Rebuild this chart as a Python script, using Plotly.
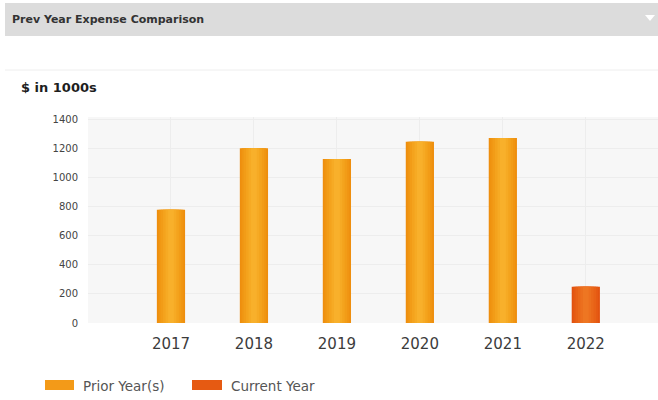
import plotly.graph_objects as go

# Annual expenses, $ in thousands
years = ["2017", "2018", "2019", "2020", "2021", "2022"]
prior_values = [780, 1205, 1130, 1250, 1275, None]
current_values = [None, None, None, None, None, 250]
y_ticks = [0, 200, 400, 600, 800, 1000, 1200, 1400]

W, H = 658, 400
L, R, T, B = 88, 0, 117, 77
PW, PH = W - L - R, H - T - B


def px(x):
    return (x - L) / PW


def py(y):
    return (H - B - y) / PH


# Horizontal shading for the bars: wide dark layer, then narrower lighter layers
prior_layers = [(0.34, "#EE8E0E"), (0.30, "#F09512"), (0.25, "#F29C17"),
                (0.19, "#F4A31D"), (0.13, "#F6AA24"), (0.07, "#F8B02B")]
current_layers = [(0.34, "#E2510F"), (0.30, "#E55913"), (0.25, "#E86116"),
                  (0.19, "#EA681A"), (0.13, "#EC6F1E"), (0.07, "#EE7622")]

fig = go.Figure()
for width, color in prior_layers:
    fig.add_trace(go.Bar(x=years, y=prior_values, width=width,
                         marker=dict(color=color, line=dict(width=0)),
                         name="Prior Year(s)", showlegend=False))
for width, color in current_layers:
    fig.add_trace(go.Bar(x=years, y=current_values, width=width,
                         marker=dict(color=color, line=dict(width=0)),
                         name="Current Year", showlegend=False))

shapes = [
    # header band
    dict(type="rect", xref="paper", yref="paper", x0=px(5), x1=px(658),
         y0=py(36), y1=py(3), fillcolor="#DCDCDC", line=dict(width=0), layer="below"),
    # dropdown arrow
    dict(type="path", xref="paper", yref="paper",
         path=f"M {px(645)} {py(15)} L {px(655)} {py(15)} L {px(650)} {py(21)} Z",
         fillcolor="white", line=dict(width=0)),
    # panel top rule
    dict(type="line", xref="paper", yref="paper", x0=px(5), x1=px(658),
         y0=py(70), y1=py(70), line=dict(color="#EEEEEE", width=1)),
    # legend swatches
    dict(type="rect", xref="paper", yref="paper", x0=px(45), x1=px(74),
         y0=py(390), y1=py(380), fillcolor="#F39A18", line=dict(width=0)),
    dict(type="rect", xref="paper", yref="paper", x0=px(192), x1=px(222),
         y0=py(390), y1=py(380), fillcolor="#E65A12", line=dict(width=0)),
]

annotations = [
    dict(text="<b>Prev Year Expense Comparison</b>", xref="paper", yref="paper",
         x=px(10), y=py(19.5), xanchor="left", yanchor="middle", showarrow=False,
         font=dict(family="DejaVu Sans", size=11, color="#333333")),
    dict(text="<b>$ in 1000s</b>", xref="paper", yref="paper",
         x=px(19), y=py(87), xanchor="left", yanchor="middle", showarrow=False,
         font=dict(family="DejaVu Sans", size=13, color="#1E1E1E")),
    dict(text="Prior Year(s)", xref="paper", yref="paper",
         x=px(81), y=py(385.5), xanchor="left", yanchor="middle", showarrow=False,
         font=dict(family="DejaVu Sans", size=13.5, color="#555555")),
    dict(text="Current Year", xref="paper", yref="paper",
         x=px(229), y=py(385.5), xanchor="left", yanchor="middle", showarrow=False,
         font=dict(family="DejaVu Sans", size=13.5, color="#555555")),
]

fig.update_layout(
    width=W, height=H,
    margin=dict(l=L, r=R, t=T, b=B),
    barmode="overlay",
    paper_bgcolor="white",
    plot_bgcolor="#F7F7F7",
    showlegend=False,
    shapes=shapes,
    annotations=annotations,
    xaxis=dict(
        type="category", range=[-1.0, 5.87],
        showgrid=True, gridcolor="#EDEDED", gridwidth=1,
        zeroline=False, showline=False,
        ticks="outside", ticklen=7, tickcolor="rgba(0,0,0,0)",
        tickfont=dict(family="DejaVu Sans", size=15, color="#3C3C3C"),
    ),
    yaxis=dict(
        range=[0, 1420], tickvals=y_ticks,
        showgrid=True, gridcolor="#EDEDED", gridwidth=1,
        zeroline=False, showline=False,
        ticks="outside", ticklen=7, tickcolor="rgba(0,0,0,0)",
        tickfont=dict(family="DejaVu Sans", size=10, color="#444444"),
    ),
)

fig.write_html("out.html")
